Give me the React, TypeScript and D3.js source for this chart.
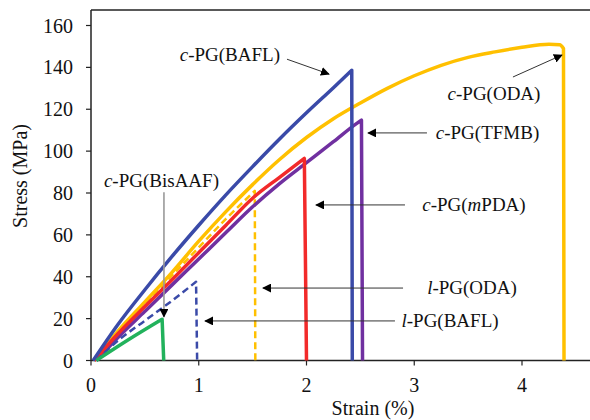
import React from "react";
import * as d3 from "d3";

const W = 590;
const H = 420;

// Series (strain %, stress MPa)
const bafl_c_strain = [0.02, 0.25, 0.5, 0.75, 1.0, 1.25, 1.5, 1.75, 2.0, 2.25, 2.42];
const bafl_c_stress = [0, 17.2, 33.8, 49.6, 64.6, 79, 92.6, 105.8, 118.3, 130.3, 138.6];
const bafl_c_break = 2.425;

const oda_c_strain = [0.03, 0.25, 0.5, 0.75, 1.0, 1.25, 1.5, 1.75, 2.0, 2.25, 2.5, 2.75, 3.0, 3.25, 3.5, 3.75, 4.0, 4.25, 4.35, 4.385];
const oda_c_stress = [0, 14, 28, 42, 57, 71, 84, 96, 106.5, 115.5, 123, 130, 136, 141, 144.8, 147.4, 149.6, 151, 150.8, 149];
const oda_c_break = 4.39;

const tfmb_c_strain = [0.05, 0.25, 0.5, 0.75, 1.0, 1.25, 1.5, 1.75, 2.0, 2.25, 2.47, 2.51];
const tfmb_c_stress = [0, 11, 23.5, 36, 48.5, 61, 73.4, 84.5, 94.5, 104.5, 113.4, 114.8];
const tfmb_c_break = 2.52;

const mpda_c_strain = [0.03, 0.25, 0.5, 0.75, 1.0, 1.25, 1.5, 1.75, 1.98];
const mpda_c_stress = [0, 12.8, 25.8, 38.5, 51.5, 64.5, 77.5, 87.5, 96.5];
const mpda_c_break = 2.0;

const oda_l_strain = [0.03, 0.25, 0.5, 0.75, 1.0, 1.25, 1.52];
const oda_l_stress = [0, 13.5, 27, 40.5, 54, 67.5, 81];
const oda_l_break = 1.525;

const bafl_l_strain = [0.05, 0.25, 0.5, 0.75, 0.975];
const bafl_l_stress = [0, 9.5, 19, 28.5, 37.6];
const bafl_l_break = 0.985;

const bisaaf_c_strain = [0.05, 0.35, 0.66];
const bisaaf_c_stress = [0, 10, 19.7];
const bisaaf_c_break = 0.675;

const xTicks = [0, 1, 2, 3, 4];
const yTicks = [0, 20, 40, 60, 80, 100, 120, 140, 160];

// Annotations: prefix (italic), rest, text anchor point (strain, stress), arrow from -> to
const annPrefix = ["c", "c", "c", "c", "l", "l", "c"];
const annRest = ["-PG(BAFL)", "-PG(ODA)", "-PG(TFMB)", "-PG(mPDA)", "-PG(ODA)", "-PG(BAFL)", "-PG(BisAAF)"];
const annX = [1.754, 3.74, 3.68, 3.554, 3.536, 3.332, 0.654];
const annY = [143.0, 124.4, 106, 71.4, 31.8, 16.0, 82.8];
const annAnchor = ["end", "middle", "middle", "middle", "middle", "middle", "middle"];
const arrowX0 = [1.819, 3.916, 3.118, 2.914, 2.896, 2.821, 0.677];
const arrowY0 = [143.9, 135.4, 108.7, 74.3, 34.6, 18.9, 80.4];
const arrowX1 = [2.209, 4.371, 2.571, 2.088, 1.596, 1.058, 0.677];
const arrowY1 = [136.8, 145.9, 108.7, 74.3, 34.6, 18.9, 20.8];

const FONT = '"Liberation Serif", Tinos, "Times New Roman", serif';

export default function App() {
  const x = d3.scaleLinear().domain([0, 4]).range([91, 522]);
  const y = d3.scaleLinear().domain([0, 160]).range([360.5, 25.5]);
  const left = x(0);
  const bottom = y(0);
  const top = 10;

  const line = d3
    .line<[number, number]>()
    .x((d) => x(d[0]))
    .y((d) => y(d[1]))
    .curve(d3.curveMonotoneX);

  const makePath = (xs: number[], ys: number[], brk: number) => {
    const pts = xs.map((v, i) => [v, ys[i]] as [number, number]);
    const p = line(pts) || "";
    return `${p}L${x(brk)},${y(0)}`;
  };

  const series = [
    { d: makePath(oda_c_strain, oda_c_stress, oda_c_break), color: "#FFC000", w: 3.5, dash: "" },
    { d: makePath(oda_l_strain, oda_l_stress, oda_l_break), color: "#FFC000", w: 2.5, dash: "7,4" },
    { d: makePath(tfmb_c_strain, tfmb_c_stress, tfmb_c_break), color: "#7030A0", w: 3.5, dash: "" },
    { d: makePath(mpda_c_strain, mpda_c_stress, mpda_c_break), color: "#F22A2A", w: 3.5, dash: "" },
    { d: makePath(bafl_c_strain, bafl_c_stress, bafl_c_break), color: "#3A4AA8", w: 3.5, dash: "" },
    { d: makePath(bafl_l_strain, bafl_l_stress, bafl_l_break), color: "#3A4AA8", w: 2.5, dash: "7,4" },
    { d: makePath(bisaaf_c_strain, bisaaf_c_stress, bisaaf_c_break), color: "#22B25C", w: 3.5, dash: "" },
  ];

  const txt = { fontFamily: FONT };

  return (
    <svg
      width={W}
      height={H}
      style={{ position: "absolute", left: 0, top: 0, background: "#fff", fontFamily: FONT }}
    >
      <defs>
        <marker id="ah" viewBox="0 0 10 10" refX="9" refY="5" markerWidth="9" markerHeight="9" markerUnits="userSpaceOnUse" orient="auto">
          <path d="M0,0 L10,5 L0,10 z" fill="#000" />
        </marker>
      </defs>
      <rect x={0} y={0} width={W} height={H} fill="#fff" />

      {/* frame */}
      <line x1={left} x2={W} y1={top} y2={top} stroke="#222" strokeWidth={1.5} />
      <line x1={left} x2={left} y1={top} y2={bottom} stroke="#222" strokeWidth={1.5} />
      <line x1={left} x2={W} y1={bottom} y2={bottom} stroke="#222" strokeWidth={1.5} />

      {/* y ticks */}
      {yTicks.map((t) => (
        <g key={"y" + t}>
          <line x1={left - 5} x2={left} y1={y(t)} y2={y(t)} stroke="#222" strokeWidth={1.2} />
          <text x={73} y={y(t) + 7} textAnchor="end" fontSize={20} fill="#111" style={txt}>
            {t}
          </text>
        </g>
      ))}
      {/* x ticks */}
      {xTicks.map((t) => (
        <g key={"x" + t}>
          <line x1={x(t)} x2={x(t)} y1={bottom} y2={bottom + 5} stroke="#222" strokeWidth={1.2} />
          <text x={x(t)} y={392} textAnchor="middle" fontSize={20} fill="#111" style={txt}>
            {t}
          </text>
        </g>
      ))}

      <text x={373} y={415} textAnchor="middle" fontSize={20} fill="#111" style={txt}>
        Strain (%)
      </text>
      <text transform={`translate(27,176) rotate(-90)`} textAnchor="middle" fontSize={20} fill="#111" style={txt}>
        Stress (MPa)
      </text>

      {/* curves */}
      {series.map((s, i) => (
        <path
          key={i}
          d={s.d}
          fill="none"
          stroke={s.color}
          strokeWidth={s.w}
          strokeDasharray={s.dash || undefined}
          strokeLinejoin="round"
        />
      ))}

      {/* annotations */}
      {annRest.map((r, i) => {
        const gray = i === 6;
        return (
          <g key={"a" + i}>
            <line
              x1={x(arrowX0[i])}
              y1={y(arrowY0[i])}
              x2={x(arrowX1[i])}
              y2={y(arrowY1[i])}
              stroke={gray ? "#9a9a9a" : "#333"}
              strokeWidth={gray ? 1.6 : 1}
              markerEnd="url(#ah)"
            />
            <text x={x(annX[i])} y={y(annY[i])} textAnchor={annAnchor[i]} fontSize={19} fill="#111" style={txt}>
              <tspan fontStyle="italic">{annPrefix[i]}</tspan>
              {r.startsWith("-PG(m") ? (
                <>
                  <tspan>-PG(</tspan>
                  <tspan fontStyle="italic">m</tspan>
                  <tspan>PDA)</tspan>
                </>
              ) : (
                <tspan>{r}</tspan>
              )}
            </text>
          </g>
        );
      })}
    </svg>
  );
}
